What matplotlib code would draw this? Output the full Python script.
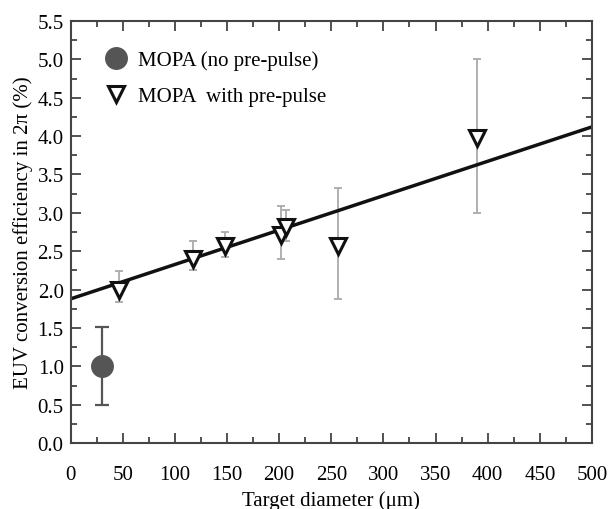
import matplotlib.pyplot as plt
from matplotlib.ticker import MultipleLocator

plt.rcParams['font.family'] = ['Liberation Serif', 'DejaVu Serif']

# MOPA, no pre-pulse
x_np = [30]
y_np = [1.0]
err_np_lo = [0.5]
err_np_hi = [0.52]

# MOPA with pre-pulse
x_pp = [46, 117, 148, 202, 207, 256, 390]
y_pp = [1.99, 2.40, 2.57, 2.71, 2.82, 2.57, 3.97]
err_pp_lo = [0.15, 0.14, 0.15, 0.31, 0.19, 0.69, 0.97]
err_pp_hi = [0.25, 0.23, 0.18, 0.38, 0.22, 0.75, 1.03]

# linear fit
fit_x = [0, 500]
fit_y = [1.88, 4.12]

fig = plt.figure(figsize=(6.09, 5.10), dpi=100)
ax = fig.add_axes([0.116, 0.129, 0.856, 0.828])

ax.plot(fit_x, fit_y, color='#111111', lw=2.5, zorder=2)

ax.errorbar(x_pp, y_pp, yerr=[err_pp_lo, err_pp_hi], fmt='none',
            ecolor='#aaaaaa', elinewidth=1.3, capsize=3, capthick=1.3, zorder=1)
ax.errorbar(x_np, y_np, yerr=[err_np_lo, err_np_hi], fmt='none',
            ecolor='#555555', elinewidth=1.6, capsize=5, capthick=1.6, zorder=1)

ax.plot(x_pp, y_pp, 'v', ms=11.5, mfc='white', mec='#111111', mew=2.2,
        zorder=3, label='MOPA  with pre-pulse')
ax.plot(x_np, y_np, 'o', ms=15.5, color='#555555', zorder=3,
        label='MOPA (no pre-pulse)')

h, l = ax.get_legend_handles_labels()
ax.legend(h[::-1], l[::-1], loc='upper left', frameon=False, fontsize=15,
          handletextpad=0.45, labelspacing=0.8, borderaxespad=0.9,
          handlelength=1.2, numpoints=1, bbox_to_anchor=(0.012, 0.995))

ax.set_xlim(0, 500)
ax.set_ylim(0, 5.5)
ax.xaxis.set_major_locator(MultipleLocator(50))
ax.xaxis.set_minor_locator(MultipleLocator(25))
ax.yaxis.set_major_locator(MultipleLocator(0.5))
ax.yaxis.set_minor_locator(MultipleLocator(0.25))
ax.set_yticklabels([f'{v:.1f}' for v in ax.get_yticks()])

ax.tick_params(which='both', direction='in', top=True, right=True,
               labelsize=15, color='#444444')
ax.tick_params(which='major', length=7, width=1.3)
ax.tick_params(which='minor', length=4, width=1.3)
ax.tick_params(axis='x', pad=16)
ax.tick_params(axis='y', pad=5)
for s in ax.spines.values():
    s.set_linewidth(1.5)
    s.set_color('#444444')

ax.set_xlabel('Target diameter (\u03bcm)', fontsize=15, labelpad=4)
ax.set_ylabel('EUV conversion efficiency in 2\u03c0 (%)', fontsize=15, labelpad=3)

fig.savefig('out.png', dpi=100)
